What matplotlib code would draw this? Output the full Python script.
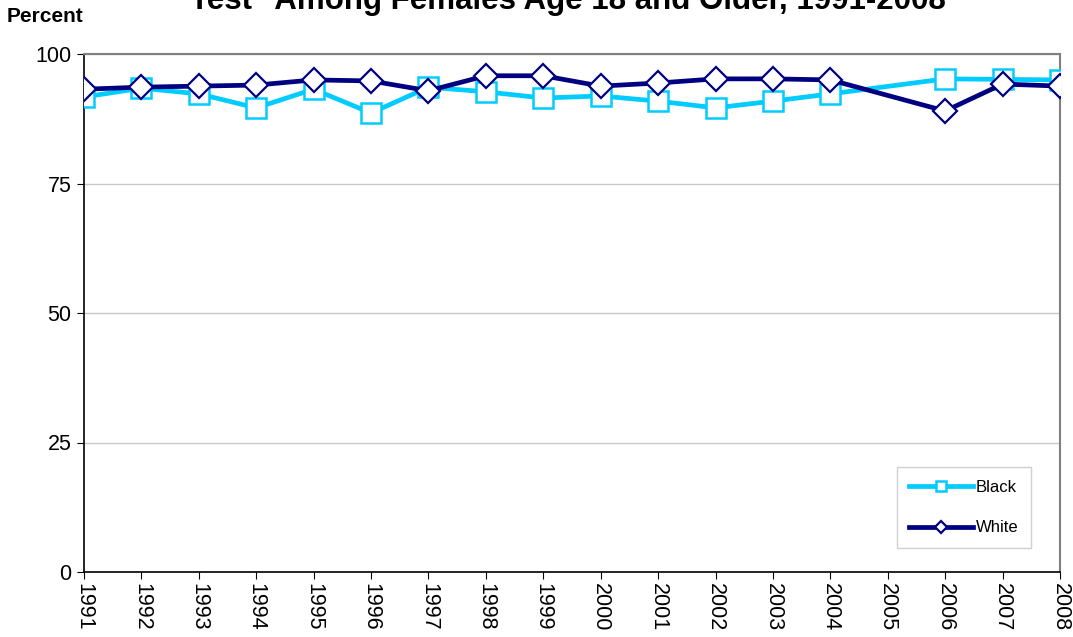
import matplotlib.pyplot as plt
import numpy as np

plt.rcParams['font.family'] = ['Liberation Sans', 'DejaVu Sans']

# data (2005 has no value)
years = np.arange(1991, 2009)
black = [91.7, 93.4, 92.3, 89.6, 93.2, 88.6, 93.6, 92.7, 91.5, 91.9,
         90.9, 89.6, 90.9, 92.3, np.nan, 95.2, 95.1, 95.0]
white = [93.2, 93.6, 93.8, 94.0, 95.0, 94.8, 92.9, 95.8, 95.8, 93.8,
         94.4, 95.2, 95.2, 95.0, np.nan, 89.0, 94.2, 93.8]
yticks = [0, 25, 50, 75, 100]

fig = plt.figure(figsize=(10.73, 6.37), dpi=100)
ax = fig.add_axes([84/1073, 1-572/637, (1060-84)/1073, (572-54)/637])

black = np.array(black)
white = np.array(white)
mb = ~np.isnan(black)
mw = ~np.isnan(white)

ax.plot(years[mb], black[mb], color='#00CCFF', lw=3.4, marker='s', ms=14,
        mfc='white', mec='#00CCFF', mew=1.8, label='Black', zorder=3)
ax.plot(years[mw], white[mw], color='#000080', lw=3.4, marker='D', ms=12,
        mfc='white', mec='#000080', mew=1.6, label='White', zorder=4)

ax.set_xlim(1991, 2008)
ax.set_ylim(0, 100)
ax.set_yticks(yticks)
ax.set_xticks(years)
ax.set_xticklabels([str(y) for y in years], rotation=270, fontsize=15.5)
ax.tick_params(axis='y', labelsize=15.5, length=5, direction='out', pad=4)
ax.tick_params(axis='x', length=5, direction='out', pad=3)
ax.yaxis.grid(True, color='#C8C8C8', lw=1)
ax.set_axisbelow(True)

for s in ['top', 'right']:
    ax.spines[s].set_color('#808080')
    ax.spines[s].set_linewidth(1.5)
for s in ['left', 'bottom']:
    ax.spines[s].set_color('black')
    ax.spines[s].set_linewidth(1.2)

leg = ax.legend(loc='lower right', bbox_to_anchor=(947/976, 24/518),
                borderaxespad=0, fontsize=12, markerscale=0.5,
                handlelength=3.8, handletextpad=0.2, labelspacing=1.55,
                borderpad=0.75, fancybox=False, edgecolor='#D0D0D0',
                framealpha=1)
leg.get_frame().set_linewidth(1)

fig.text(7/1073, 1-22/637, 'Percent', fontsize=15, fontweight='bold',
         ha='left', va='baseline')
fig.text(568/1073, 1-9/637, 'Test" Among Females Age 18 and Older, 1991-2008',
         fontsize=22.5, fontweight='bold', ha='center', va='baseline')

fig.savefig('out.png', dpi=100)
